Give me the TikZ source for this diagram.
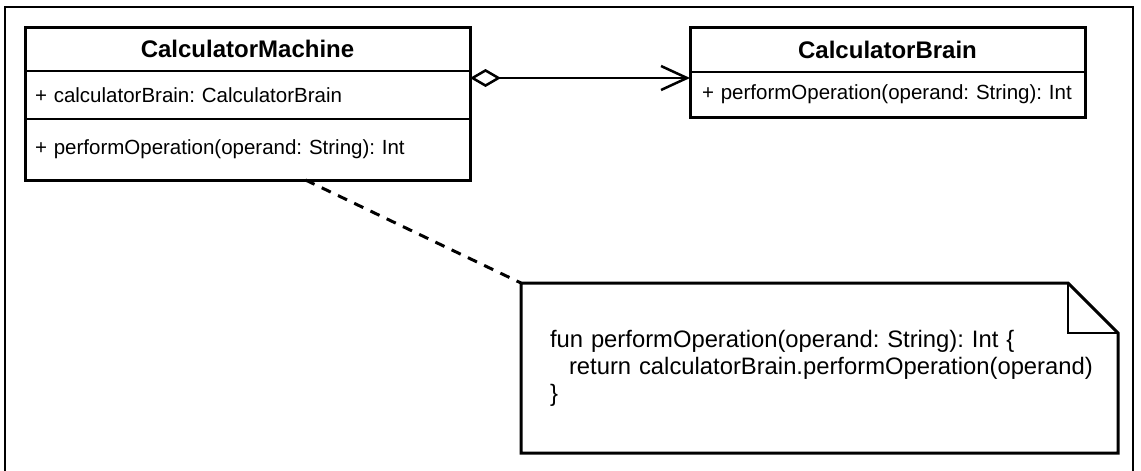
\documentclass[tikz,border=0pt]{standalone}
\usepackage{fontspec}
\setmainfont{Liberation Sans}
\usetikzlibrary{positioning,arrows.meta}
\frenchspacing
\begin{document}
\begin{tikzpicture}[x=1pt,y=-1pt,
		classhead/.style={draw, line width=2pt, inner sep=0pt, outer sep=0pt, font=\fontsize{24}{28}\selectfont\bfseries},
		classpart/.style={draw, line width=2pt, inner xsep=0pt, inner ysep=0pt, outer sep=0pt, align=left, font=\fontsize{20.5}{24}\selectfont},
		notebox/.style={inner sep=0pt, outer sep=0pt, align=left, font=\fontsize{23.8}{27}\selectfont}
		]
		\useasboundingbox (0,0) rectangle (1141,471);
		\draw[line width=2.5pt] (5,471) -- (5,7) -- (1133,7) -- (1133,471);
		% CalculatorMachine
		\node [classhead, anchor=north west, minimum width=445pt, minimum height=44pt] (mhead) at (25,27) {CalculatorMachine};
		\node [classpart, below=0pt of mhead, minimum width=445pt, minimum height=48pt, text width=425pt] (mattr) {+ calculatorBrain: CalculatorBrain};
		\node [classpart, below=0pt of mattr, minimum width=445pt, minimum height=61pt, text width=425pt] (mmeth) {+ performOperation(operand: String): Int};
		\draw[line width=3pt] (mhead.north west) rectangle (mmeth.south east);
		% CalculatorBrain
		\node [classhead, anchor=north west, minimum width=395pt, minimum height=45pt] (bhead) at (690,27) {CalculatorBrain};
		\node [classpart, below=0pt of bhead, minimum width=395pt, minimum height=45pt, text width=371pt] (bmeth) {+ performOperation(operand: String): Int};
		\draw[line width=3pt] (bhead.north west) rectangle (bmeth.south east);
		% note
		\node [notebox, anchor=north west, minimum width=597pt, minimum height=170pt, text width=539pt] (note) at (521,283)
			{fun performOperation(operand: String): Int \{\\\hspace*{19pt}return calculatorBrain.performOperation(operand)\\\}};
		\draw[line width=3pt, line join=miter] (note.north west) -- ([xshift=-50pt]note.north east) -- ([yshift=-50pt]note.north east) -- (note.south east) -- (note.south west) -- cycle;
		\draw[line width=2.5pt] ([xshift=-50pt]note.north east) |- ([yshift=-50pt]note.north east);
		% connectors
		\coordinate (aggr) at ([yshift=-7pt]mhead.south east);
		\draw[line width=2.5pt, {Diamond[open, length=31pt, width=18pt, line width=2.5pt]}-{Straight Barb[length=26pt, width=24pt, line width=2.5pt]}] (aggr) -- (aggr -| bhead.west);
		\draw[line width=3pt, dash pattern=on 10pt off 8pt] ([xshift=58pt]mmeth.south) -- (note.north west);
	\end{tikzpicture}
\end{document}
